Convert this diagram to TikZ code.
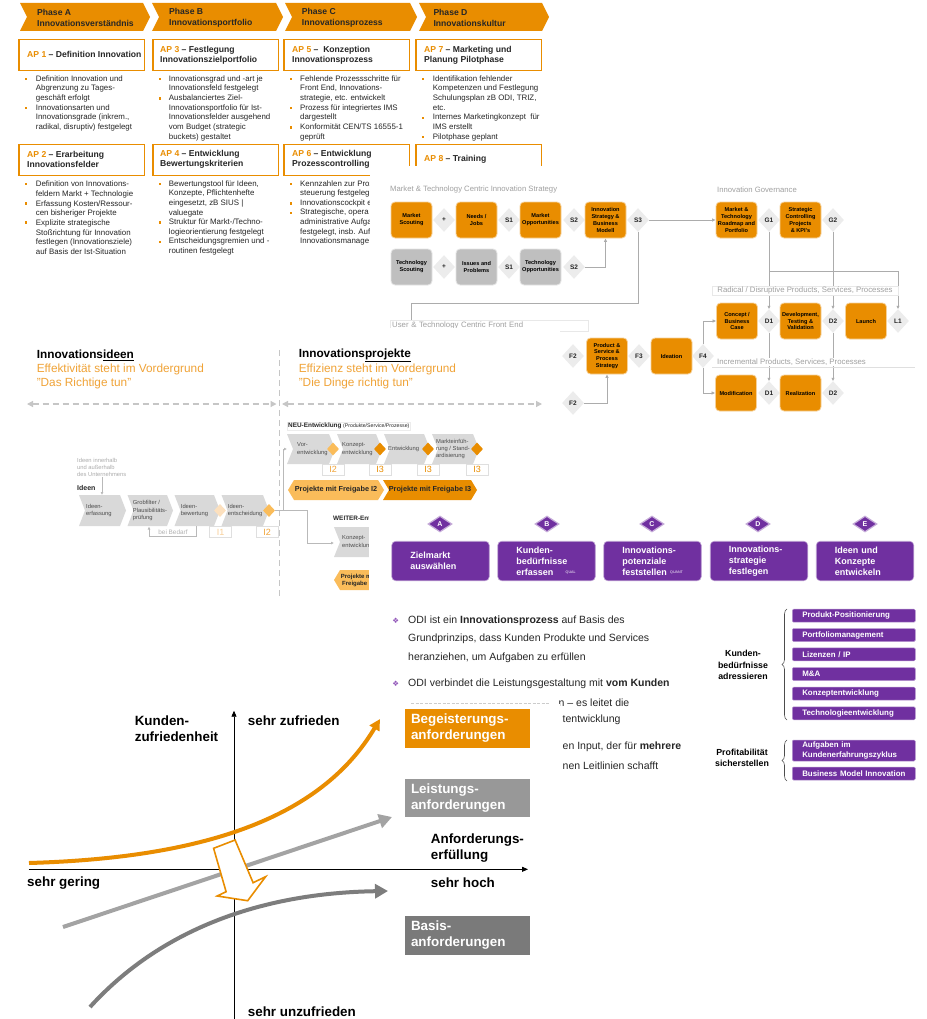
\documentclass[tikz,border=0pt]{standalone}
\usepackage{fontspec}
\setmainfont{Liberation Sans}
\newfontfamily\dingfont{DejaVu Sans}
\usetikzlibrary{shapes.geometric,arrows.meta,decorations.pathreplacing}

\definecolor{ora}{RGB}{233,141,0}
\definecolor{oraText}{RGB}{240,163,55}
\definecolor{oraLight}{RGB}{250,188,90}
\definecolor{oraPale}{RGB}{252,224,190}
\definecolor{chevGray}{RGB}{217,217,217}
\definecolor{techGray}{RGB}{191,191,191}
\definecolor{diaGray}{RGB}{236,236,236}
\definecolor{lineGray}{RGB}{172,172,172}
\definecolor{lblGray}{RGB}{160,160,160}
\definecolor{purp}{RGB}{112,48,160}
\definecolor{purpBul}{RGB}{145,85,185}
\definecolor{kanoLight}{RGB}{163,163,163}
\definecolor{kanoDark}{RGB}{125,125,125}
\definecolor{boxMid}{RGB}{152,152,152}
\definecolor{boxDark}{RGB}{122,122,122}
\definecolor{txt}{RGB}{38,38,38}

% chevron band: fill, x-left, x-tip, y-top, y-bottom, point depth
\newcommand\chevshape[6]{\fill[#1] (#2,#4) -- ({#3-#6},#4) -- (#3,{(#4+#5)/2}) -- ({#3-#6},#5) -- (#2,#5) -- ({#2+#6},{(#4+#5)/2}) -- cycle;}
% small square bullet
\newcommand\obul[2]{\fill[ora] ({#1-1.2},{#2-1.2}) rectangle ({#1+1.2},{#2+1.2});}

\begin{document}
\begin{tikzpicture}[x=1pt,y=-1pt,
  phasetxt/.style={anchor=west,align=left,inner sep=0pt,text=txt,font=\bfseries\fontsize{8.6}{10.7}\selectfont},
  apframe/.style={anchor=north west,draw=ora,line width=1.5pt,fill=white,minimum width=125.5pt,minimum height=31pt,inner sep=0pt},
  aptxt/.style={anchor=west,align=left,inner sep=0pt,text=txt,font=\bfseries\fontsize{8.6}{10}\selectfont},
  blist/.style={anchor=west,align=left,inner sep=0pt,text=txt,font=\fontsize{7.9}{9.65}\selectfont},
  lbl/.style={inner sep=0pt,text=lblGray,font=\fontsize{7.7}{9}\selectfont},
  sbox/.style={rectangle,rounded corners=4pt,fill=ora,draw=ora!40!white,line width=0.8pt,minimum width=41pt,minimum height=36pt,inner sep=0.5pt,align=center,text=black,font=\bfseries\fontsize{5.6}{6.9}\selectfont},
  gbox/.style={sbox,fill=techGray,draw=techGray!40!white},
  sdia/.style={diamond,aspect=1,inner sep=0pt,minimum width=21pt,minimum height=23pt,fill=diaGray,draw=gray!15,line width=0.5pt,text=txt,font=\bfseries\fontsize{6.5}{7}\selectfont},
  sline/.style={draw=lineGray,line width=0.9pt},
  sarr/.style={sline,-{Latex[length=3.5pt,width=3.5pt]}},
  ttl/.style={anchor=west,inner sep=0pt,text=black,font=\bfseries\fontsize{11.8}{14}\selectfont},
  subttl/.style={anchor=west,align=left,inner sep=0pt,text=oraText,font=\fontsize{11.8}{14}\selectfont},
  vdash/.style={draw=gray!45,line width=1.2pt,dash pattern=on 6pt off 4pt},
  hdash/.style={vdash,{Triangle[length=6pt,width=6pt]}-{Triangle[length=6pt,width=6pt]}},
  ctxt/.style={anchor=west,align=left,inner sep=0pt,text=black!70,font=\fontsize{5.8}{7.4}\selectfont},
  mdia/.style={diamond,aspect=1,inner sep=0pt,minimum width=12pt,minimum height=13pt},
  ilbl/.style={draw=gray!25,fill=white,minimum width=22pt,minimum height=11pt,inner sep=0pt,text=ora,font=\fontsize{9}{10}\selectfont},
  btxt/.style={inner sep=0pt,text=txt,font=\bfseries\fontsize{7.3}{8}\selectfont},
  cline/.style={draw=gray!55,line width=0.7pt},
  carr/.style={cline,-{Latex[length=3pt,width=3pt]}},
  pdia/.style={diamond,inner sep=0pt,minimum width=24pt,minimum height=16pt,fill=purp,draw=purp!40!white,line width=1.2pt,text=white,font=\bfseries\fontsize{7}{8}\selectfont},
  pbox/.style={rectangle,rounded corners=4pt,fill=purp,draw=purp!45!white,line width=0.6pt,minimum width=97.5pt,minimum height=39.5pt,inner xsep=18.5pt,inner ysep=0pt,text width=60.5pt,align=left,text=white,font=\bfseries\fontsize{9}{11}\selectfont},
  qtag/.style={anchor=west,inner sep=0pt,text=white,font=\fontsize{3.6}{4}\selectfont},
  odibul/.style={inner sep=0pt,text=purpBul,font=\dingfont\fontsize{7.5}{8}\selectfont},
  oditxt/.style={anchor=west,align=left,inner sep=0pt,text=txt,font=\fontsize{10.5}{18.3}\selectfont},
  listlbl/.style={align=center,inner sep=0pt,text=black,font=\bfseries\fontsize{8.8}{11.5}\selectfont},
  pitem/.style={anchor=west,rectangle,rounded corners=1.2pt,fill=purp,draw=purp!50!white,line width=0.5pt,minimum height=13pt,inner xsep=10pt,inner ysep=0pt,text width=103pt,align=left,text=white,font=\bfseries\fontsize{7.9}{10}\selectfont},
  brc/.style={draw=black!70,line width=0.6pt,decorate,decoration={brace,amplitude=5pt}},
  kano/.style={anchor=west,align=left,inner sep=0pt,text=black,font=\bfseries\fontsize{13.4}{16}\selectfont},
  kbox/.style={rectangle,minimum width=125pt,minimum height=38.5pt,inner xsep=6.5pt,inner ysep=0pt,text width=112pt,align=left,text=white,font=\bfseries\fontsize{13.4}{16}\selectfont},
]
\useasboundingbox (0,0) rectangle (926,1019);
\fill[white] (0,0) rectangle (926,1019);

% ================= Phases A-D with work packages =================
\chevshape{ora}{20}{150}{3}{31}{7}
\chevshape{ora}{152}{283}{3}{31}{7}
\chevshape{ora}{285}{417}{3}{31}{7}
\chevshape{ora}{419}{549}{3}{31}{7}
\node[phasetxt] (phA) at (37,17.7) {Phase A\\Innovationsverständnis};
\node[phasetxt] (phB) at (169,17.7) {Phase B\\Innovationsportfolio};
\node[phasetxt] (phC) at (301.7,17.7) {Phase C\\Innovationsprozess};
\node[phasetxt] (phD) at (433.3,17.7) {Phase D\\Innovationskultur};

\node[apframe] (ap1f) at (18,39) {};
\node[apframe] (ap3f) at (152,39) {};
\node[apframe] (ap5f) at (283,39) {};
\node[apframe] (ap7f) at (415,39) {};
\node[aptxt] (ap1) at (27,54.5) {\textcolor{ora}{AP 1} – Definition Innovation};
\node[aptxt] (ap3) at (160,55) {\textcolor{ora}{AP 3} – Festlegung\\Innovationszielportfolio};
\node[aptxt] (ap5) at (292,55) {\textcolor{ora}{AP 5} –\ \ Konzeption\\Innovationsprozess};
\node[aptxt] (ap7) at (424,55) {\textcolor{ora}{AP 7} – Marketing und\\Planung Pilotphase};

\node[blist] (l1) at (35.7,103.3) {Definition Innovation und\\Abgrenzung zu Tages-\\geschäft erfolgt\\Innovationsarten und\\Innovationsgrade (inkrem.,\\radikal, disruptiv) festgelegt};
\obul{26}{79.2}\obul{26}{108.2}
\node[blist] (l3) at (168.7,108.2) {Innovationsgrad und -art je\\Innovationsfeld festgelegt\\Ausbalanciertes Ziel-\\Innovationsportfolio für Ist-\\Innovationsfelder ausgehend\\vom Budget (strategic\\buckets) gestaltet};
\obul{160}{79.2}\obul{160}{98.5}
\node[blist] (l5) at (300,108.2) {Fehlende Prozessschritte für\\Front End, Innovations-\\strategie, etc. entwickelt\\Prozess für integriertes IMS\\dargestellt\\Konformität CEN/TS 16555-1\\geprüft};
\obul{290.7}{79.2}\obul{290.7}{108.2}\obul{290.7}{127.5}
\node[blist] (l7) at (432.7,108.2) {Identifikation fehlender\\Kompetenzen und Festlegung\\Schulungsplan zB ODI, TRIZ,\\etc.\\Internes Marketingkonzept\ \ für\\IMS erstellt\\Pilotphase geplant};
\obul{423}{79.2}\obul{423}{117.8}\obul{423}{137.1}

\node[apframe] (ap2f) at (18,144) {};
\node[apframe] (ap4f) at (152,144) {};
\node[apframe] (ap6f) at (283,144) {};
\node[apframe] (ap8f) at (415,144) {};
\node[aptxt] (ap2) at (27,159.5) {\textcolor{ora}{AP 2} – Erarbeitung\\Innovationsfelder};
\node[aptxt] (ap4) at (160,159.5) {\textcolor{ora}{AP 4} – Entwicklung\\Bewertungskriterien};
\node[aptxt] (ap6) at (292,159.5) {\textcolor{ora}{AP 6} – Entwicklung\\Prozesscontrolling};
\node[aptxt] (ap8) at (424,159.5) {\textcolor{ora}{AP 8} – Training};

\node[blist] (l2) at (35.7,217.8) {Definition von Innovations-\\feldern Markt + Technologie\\Erfassung Kosten/Ressour-\\cen bisheriger Projekte\\Explizite strategische\\Stoßrichtung für Innovation\\festlegen (Innovationsziele)\\auf Basis der Ist-Situation};
\obul{26}{184}\obul{26}{203.3}\obul{26}{222.6}
\node[blist] (l4) at (168.7,217.8) {Bewertungstool für Ideen,\\Konzepte, Pflichtenhefte\\eingesetzt, zB SIUS |\\valuegate\\Struktur für Markt-/Techno-\\logieorientierung festgelegt\\Entscheidungsgremien und -\\routinen festgelegt};
\obul{160}{184}\obul{160}{222.6}\obul{160}{241.9}
\node[blist] (l6) at (300,212.95) {Kennzahlen zur Proz\\steuerung festgeleg\\Innovationscockpit e\\Strategische, opera\\administrative Aufga\\festgelegt, insb. Auf\\Innovationsmanage};
\obul{290.7}{184}\obul{290.7}{203.3}\obul{290.7}{212.95}

% ================= Innovation strategy / front end flow =================
\fill[white] (370,166) rectangle (926,432);
\node[lbl,anchor=west] (mtTitle) at (390,190) {Market \& Technology Centric Innovation Strategy};
\node[sbox] (MS) at (411.5,220) {Market\\Scouting};
\node[sdia] (P1) at (444,220) {+};
\node[sbox] (NJ) at (476.5,220) {Needs /\\Jobs};
\node[sdia] (S1a) at (509,220) {S1};
\node[sbox] (MO) at (540.5,220) {Market\\Opportunities};
\node[sdia] (S2a) at (574,220) {S2};
\node[sbox] (ISB) at (605.5,220) {Innovation\\Strategy \&\\Business\\Modell};
\node[sdia] (S3) at (638,220) {S3};
\node[gbox] (TS) at (411.5,267) {Technology\\Scouting};
\node[sdia] (P2) at (444,267) {+};
\node[gbox] (IPr) at (476.5,267) {Issues and\\Problems};
\node[sdia] (S1b) at (509,267) {S1};
\node[gbox] (TO) at (540.5,267) {Technology\\Opportunities};
\node[sdia] (S2b) at (574,267) {S2};

\node[lbl,anchor=west] (govTitle) at (717,190) {Innovation Governance};
\node[sbox] (MTR) at (736.5,220) {Market \&\\Technology\\Roadmap and\\Portfolio};
\node[sdia] (G1) at (769,220) {G1};
\node[sbox] (SCP) at (800.5,220) {Strategic\\Controlling\\Projects\\\& KPI's};
\node[sdia] (G2) at (833,220) {G2};

\node[sbox] (CBC) at (737,321) {Concept /\\Business\\Case};
\node[sdia] (D1a) at (769,321) {D1};
\node[sbox] (DTV) at (800.5,321) {Development,\\Testing \&\\Validation};
\node[sdia] (D2a) at (833,321) {D2};
\node[sbox] (LA) at (866,321) {Launch};
\node[sdia] (L1) at (898,321) {L1};

\node[sdia] (F2a) at (573,356) {F2};
\node[sbox] (PSP) at (607,356) {Product \&\\Service \&\\Process\\Strategy};
\node[sdia] (F3) at (639,356) {F3};
\node[sbox] (IDE) at (671.5,356) {Ideation};
\node[sdia] (F4) at (703,356) {F4};
\node[sdia] (F2b) at (573,403) {F2};

\node[sbox] (MOD) at (736,393) {Modification};
\node[sdia] (D1b) at (769,393) {D1};
\node[sbox] (REA) at (800.5,393) {Realization};
\node[sdia] (D2b) at (833,393) {D2};

\draw[sarr] (S2b.east) -| (ISB.south);
\draw[sarr] (S3.east) -- (MTR.west);
\coordinate (utfBend) at (411,303);
\draw[sline] (S3.south) |- (utfBend);
\draw[sarr] (G1.south) -- (D1a.north);
\coordinate (gBranch) at (769,271);
\draw[sarr] (gBranch) -| (L1.north);
\draw[sarr] (G2.south) -- (D2a.north);
\draw[sarr] (F4.north) |- (CBC.west);
\draw[sarr] (F4.south) |- (MOD.west);
\draw[sarr] (F2b.east) -| (PSP.south);
\draw[sarr] (D1a.south) -- (D1b.north);
\draw[sarr] (D2a.south) -- (D2b.north);

\node[draw=gray!18,fill=white,minimum width=186pt,minimum height=9.5pt,inner sep=0pt,text=lblGray,font=\fontsize{7.8}{9}\selectfont] (radLbl) at (805,290.5) {Radical / Disruptive Products, Services, Processes};
\node[anchor=west,fill=white,inner xsep=1pt,inner ysep=0.5pt,text=lblGray,font=\fontsize{7.8}{9}\selectfont] (incLbl) at (716,362.3) {Incremental Products, Services, Processes};
\draw[draw=gray!25,line width=0.6pt] (712,367.3) -- (915,367.3);
\node[anchor=west,draw=gray!18,fill=white,minimum height=11pt,inner xsep=2pt,inner ysep=0pt,text width=194pt,align=left,text=lblGray,font=\fontsize{7.8}{9}\selectfont] (UTF) at (390,325.5) {User \& Technology Centric Front End};
\draw[sline] (utfBend) -- (utfBend |- UTF.north);

% ================= Ideas vs. projects =================
\fill[white] (0,328) rectangle (560,600);
\node[ttl] (tIdeen) at (36.6,355) {Innovations\underline{ideen}};
\node[subttl] (sIdeen) at (36.6,376.3) {Effektivität steht im Vordergrund\\"Das Richtige tun"};
\node[ttl] (tProj) at (298.6,355) {Innovations\underline{projekte}};
\node[subttl] (sProj) at (298.6,376.3) {Effizienz steht im Vordergrund\\"Die Dinge richtig tun"};
\coordinate (vTop) at (279.3,350);
\coordinate (vBot) at (279.3,598);
\draw[vdash] (vTop) -- (vBot);
\coordinate (hL) at (27,404);
\coordinate (hM1) at (276.5,404);
\coordinate (hM2) at (282,404);
\coordinate (hR) at (542,404);
\draw[hdash] (hL) -- (hM1);
\draw[hdash] (hM2) -- (hR);

% new development stream
\node[anchor=west,draw=gray!15,fill=white,inner xsep=1pt,inner ysep=0.8pt,text=txt] (neu) at (287,426) {{\bfseries\fontsize{6.4}{7}\selectfont NEU-Entwicklung}\,{\fontsize{5.2}{6}\selectfont(Produkte/Service/Prozesse)}};
\chevshape{chevGray}{287}{335}{434}{464}{6}
\chevshape{chevGray}{337}{382}{434}{464}{6}
\chevshape{chevGray}{384}{430}{434}{464}{6}
\chevshape{chevGray}{432}{479}{434}{464}{6}
\node[ctxt] (c1) at (297,449) {Vor-\\entwicklung};
\node[ctxt] (c2) at (342,449) {Konzept-\\entwicklung};
\node[ctxt] (c3) at (388,449) {Entwicklung};
\node[ctxt] (c4) at (436,449) {Markteinfüh-\\rung / Stand-\\ardisierung};
\node[mdia,fill=oraLight] (nd1) at (333,449) {};
\node[mdia,fill=ora] (nd2) at (380,449) {};
\node[mdia,fill=ora] (nd3) at (428,449) {};
\node[mdia,fill=ora] (nd4) at (477,449) {};
\node[ilbl,text=oraText] (ni1) at (333,469.5) {I2};
\node[ilbl] (ni2) at (380,469.5) {I3};
\node[ilbl] (ni3) at (428,469.5) {I3};
\node[ilbl] (ni4) at (477,469.5) {I3};
\fill[oraLight] (288,490) -- (294,480) -- (378,480) -- (384,490) -- (378,500) -- (294,500) -- cycle;
\fill[ora] (383,480) -- (471,480) -- (477,490) -- (471,500) -- (383,500) -- (389,490) -- cycle;
\node[btxt] (bI2) at (336,490) {Projekte mit Freigabe I2};
\node[btxt] (bI3) at (430,490) {Projekte mit Freigabe I3};

% idea stream
\node[anchor=west,align=left,inner sep=0pt,text=gray!65,font=\fontsize{5.8}{7.2}\selectfont] (ext) at (77,467.3) {Ideen innerhalb\\und außerhalb\\des Unternehmens};
\node[anchor=west,inner sep=0pt,text=txt,font=\bfseries\fontsize{7}{8}\selectfont] (ideenLbl) at (77,488.3) {Ideen};
\coordinate (ieTop) at (102,495);
\draw[carr] (ext.south -| ieTop) -- (ieTop);
\chevshape{chevGray}{79}{126}{495}{526}{6}
\chevshape{chevGray}{127.5}{173}{495}{526}{6}
\chevshape{chevGray}{174.5}{220}{495}{526}{6}
\chevshape{chevGray}{221.5}{269}{495}{526}{6}
\node[ctxt] (ic1) at (86,510.5) {Ideen-\\erfassung};
\node[ctxt] (ic2) at (132.7,510.5) {Grobfilter /\\Plausibilitäts-\\prüfung};
\node[ctxt] (ic3) at (180.7,510.5) {Ideen-\\bewertung};
\node[ctxt] (ic4) at (227.7,510.5) {Ideen-\\entscheidung};
\node[mdia,fill=oraPale] (id1) at (220,510.5) {};
\node[mdia,fill=oraLight] (id2) at (269,510.5) {};
\coordinate (bdTR) at (196.7,526);
\coordinate (bdBR) at (196.7,536.7);
\coordinate (bdBL) at (149,536.7);
\coordinate (bdTL) at (149,526.5);
\draw[carr] (bdTR) -- (bdBR) -- (bdBL) -- (bdTL);
\node[inner sep=0pt,text=gray!60,font=\fontsize{6.4}{7}\selectfont] (bedarf) at (173,532) {bei Bedarf};
\node[ilbl,text=oraPale!80!ora] (ii1) at (220.5,532) {I1};
\node[ilbl,text=oraText] (ii2) at (267,532) {I2};

\coordinate (jn) at (283.3,510.5);
\coordinate (vorIn) at (287,449);
\coordinate (wBend) at (307,510.5);
\coordinate (wIn) at (334,543);
\draw[cline] (id2.east) -- (jn);
\draw[carr] (jn) |- (vorIn);
\draw[carr] (jn) -- (wBend) |- (wIn);

% further development stream
\node[anchor=west,inner sep=0pt,text=txt,font=\bfseries\fontsize{6.4}{7}\selectfont] (weiter) at (333,519.3) {WEITER-Entwicklung};
\chevshape{chevGray}{334}{400}{527}{557}{6}
\node[ctxt] (wc1) at (342,542) {Konzept-\\entwicklung};
\fill[oraLight] (334,580) -- (340,570) -- (420,570) -- (420,590) -- (340,590) -- cycle;
\node[btxt,align=center,font=\bfseries\fontsize{6}{7.7}\selectfont] (wb) at (358,580.5) {Projekte mit\\Freigabe I2};

% ================= ODI steps A-E =================
\fill[white] (369,506) rectangle (926,600);
\node[pdia] (pA) at (440,524) {A};
\node[pdia] (pB) at (547,524) {B};
\node[pdia] (pC) at (652,524) {C};
\node[pdia] (pD) at (758,524) {D};
\node[pdia] (pE) at (865,524) {E};
\node[pbox] (pb1) at (440.5,561) {Zielmarkt\\auswählen};
\node[pbox] (pb2) at (546.5,561) {Kunden-\\bedürfnisse\\erfassen};
\node[pbox] (pb3) at (652.5,561) {Innovations-\\potenziale\\feststellen};
\node[pbox] (pb4) at (759,561) {Innovations-\\strategie\\festlegen};
\node[pbox] (pb5) at (865,561) {Ideen und\\Konzepte\\entwickeln};
\node[qtag] (qual) at (565.5,572.7) {QUAL};
\node[qtag] (quant) at (670,572.7) {QUANT};

% ================= ODI text =================
\node[odibul] (ob1) at (395.7,620.7) {❖};
\node[oditxt] (ot1) at (408,639) {ODI ist ein \textbf{Innovationsprozess} auf Basis des\\Grundprinzips, dass Kunden Produkte und Services\\heranziehen, um Aufgaben zu erfüllen};
\node[odibul] (ob2) at (395.7,684) {❖};
\node[oditxt] (ot2) at (408,684) {ODI verbindet die Leistungsgestaltung mit \textbf{vom Kunden}};
\node[oditxt] (ot3) at (558.5,702.7) {n – es leitet die};
\node[oditxt] (ot4) at (562.5,720) {tentwicklung};
\node[oditxt] (ot5) at (562.5,746.7) {en Input, der für \textbf{mehrere}};
\node[oditxt] (ot6) at (562.5,765.7) {nen Leitlinien schafft};

% ================= customer needs list =================
\node[listlbl] (kbLbl) at (743,665) {Kunden-\\bedürfnisse\\adressieren};
\draw[brc] (787,720) -- (787,609);
\node[pitem] (it1) at (792,615.7) {Produkt-Positionierung};
\node[pitem] (it2) at (792,635) {Portfoliomanagement};
\node[pitem] (it3) at (792,654.3) {Lizenzen / IP};
\node[pitem] (it4) at (792,674) {M\&A};
\node[pitem] (it5) at (792,693.7) {Konzeptentwicklung};
\node[pitem] (it6) at (792,713.3) {Technologieentwicklung};
\node[listlbl] (pfLbl) at (742,757.7) {Profitabilität\\sicherstellen};
\draw[brc] (787,781) -- (787,740);
\node[pitem,minimum height=21pt] (it7) at (792,750.5) {Aufgaben im\\Kundenerfahrungszyklus};
\node[pitem] (it8) at (792,773.5) {\mbox{Business Model Innovation}};

% ================= Kano model =================
\fill[white] (0,703.8) rectangle (560,1019);
\draw[gray!40,dash pattern=on 3pt off 1.5pt,line width=0.5pt] (411,703.2) -- (549,703.2);
\coordinate (yBot) at (234,1019);
\coordinate (yTop) at (234,710.7);
\coordinate (xL) at (28.7,869.3);
\coordinate (xR) at (528,869.3);
\draw[black,line width=0.8pt,-{Triangle[length=6pt,width=5pt]}] (yBot) -- (yTop);
\draw[black,line width=0.8pt,-{Triangle[length=6pt,width=5pt]}] (xL) -- (xR);

\coordinate (oS) at (29,863);
\coordinate (oE) at (380,719);
\draw[ora,line width=4pt,-{Triangle[length=11pt,width=11pt]}] (oS) .. controls (200,858) and (320,820) .. (oE);
\coordinate (lS) at (63,927);
\coordinate (lE) at (392,817);
\draw[kanoLight,line width=4pt,-{Triangle[length=13pt,width=14pt]}] (lS) -- (lE);
\coordinate (dS) at (90,1007);
\coordinate (dE) at (388,891);
\draw[kanoDark,line width=4pt,-{Triangle[length=13pt,width=14pt]}] (dS) .. controls (160,930) and (260,893) .. (dE);
\draw[ora,line width=1.6pt,fill=white,line join=miter] (213.6,848.3) -- (226.1,891.7) -- (217.2,896) -- (247.7,900.7) -- (265.6,876.7) -- (253.1,882.7) -- (235.1,840) -- cycle;

\node[kano] (kz) at (134.6,728.7) {Kunden-\\zufriedenheit};
\node[kano] (szu) at (247.7,720.7) {sehr zufrieden};
\node[kano] (sun) at (247.7,1012) {sehr unzufrieden};
\node[kano] (sge) at (27,882.7) {sehr gering};
\node[kano] (sho) at (430.7,882.7) {sehr hoch};
\node[kano] (anf) at (430.7,848) {Anforderungs-\\erfüllung};
\node[kbox,fill=ora] (kb1) at (467,728.5) {Begeisterungs-\\anforderungen};
\node[kbox,fill=boxMid] (kb2) at (467,797.8) {Leistungs-\\anforderungen};
\node[kbox,fill=boxDark] (kb3) at (467,935.5) {Basis-\\anforderungen};
\end{tikzpicture}
\end{document}
